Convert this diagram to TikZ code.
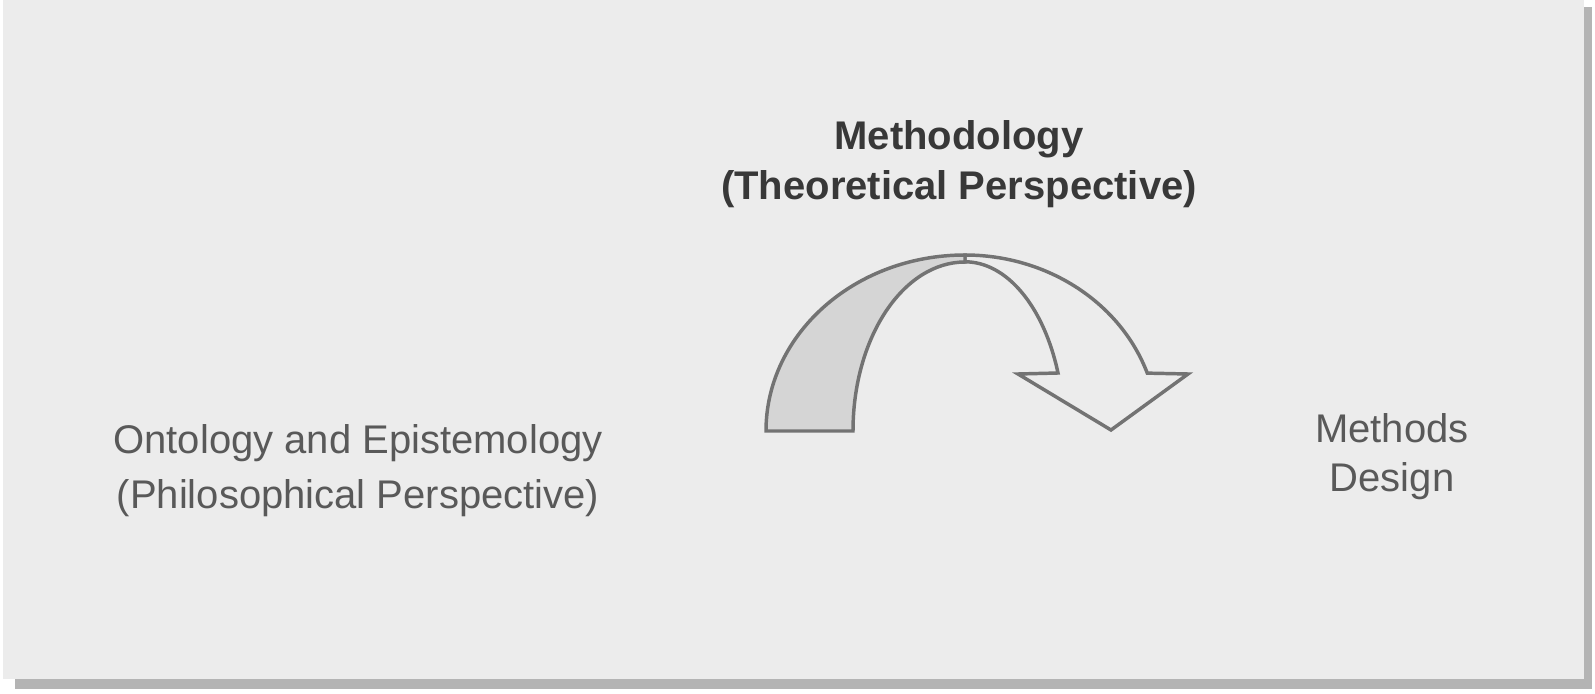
\documentclass[tikz,border=0pt]{standalone}
\usepackage{fontspec}
\setmainfont{Liberation Sans}
\begin{document}
\begin{tikzpicture}[x=0.75pt,y=0.75pt,
  lbl/.style={align=center,anchor=base,inner sep=0pt,text=black!65},
  boldlbl/.style={align=center,anchor=base,inner sep=0pt,text=black!78,font=\fontsize{30}{37.5}\selectfont\bfseries},
  arrowline/.style={draw=black!55,line width=2.6pt,line join=miter}]
\definecolor{bgcol}{HTML}{ECECEC}
\definecolor{shadowcol}{HTML}{B4B4B4}
\definecolor{shadecol}{HTML}{D5D5D5}
\useasboundingbox (0,0) rectangle (1595,693);
\fill[white] (0,0) rectangle (1595,693);
% shadow and panel
\fill[shadowcol] (15,4) rectangle (1592,686);
\fill[bgcol] (3,14) rectangle (1584,693);
% curved arrow: right (white) part
\path[arrowline,fill=bgcol] (965,438) arc[start angle=90,end angle=19.2,x radius=193,y radius=176]
  -- (1188,319) -- (1111,263) -- (1018,319) -- (1058,320)
  arc[start angle=20,end angle=90,x radius=99,y radius=169] -- cycle;
% left (shaded) part
\path[arrowline,fill=shadecol] (766,262) arc[start angle=180,end angle=90,x radius=199,y radius=176]
  -- (965,431) arc[start angle=90,end angle=180,x radius=112,y radius=169] -- cycle;
% labels (anchor base = baseline of last line)
\node[boldlbl] (meth) at (959,493) {Methodology\\(Theoretical Perspective)};
\node[lbl,font=\fontsize{30}{41}\selectfont] (onto) at (358,185) {Ontology and Epistemology\\(Philosophical Perspective)};
\node[lbl,font=\fontsize{30}{37}\selectfont] (methods) at (1392,201) {Methods\\Design};
\end{tikzpicture}
\end{document}
